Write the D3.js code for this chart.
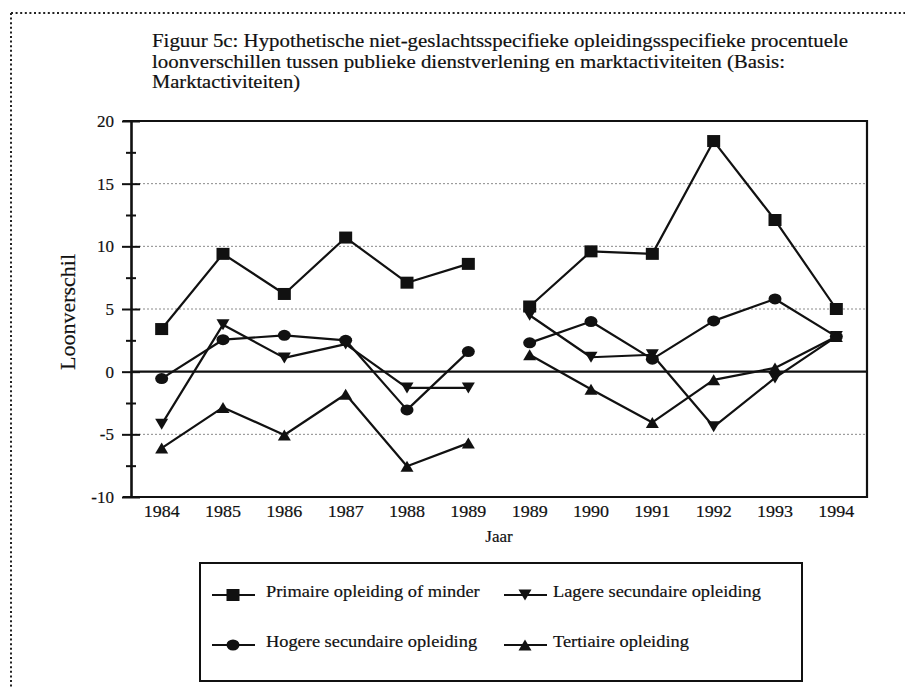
<!DOCTYPE html>
<html><head><meta charset="utf-8">
<script src="https://cdn.jsdelivr.net/npm/d3@7"></script>
<style>
body{margin:0;background:#fff}
svg{display:block}
text{font-family:"Liberation Serif","Times New Roman",serif;fill:#111;stroke:#111;stroke-width:0.2px}
</style>
</head><body>
<svg id="chart" width="905" height="688"></svg>
<script>
// ---------- data ----------
const titleLines = [
  "Figuur 5c: Hypothetische niet-geslachtsspecifieke opleidingsspecifieke procentuele",
  "loonverschillen tussen publieke dienstverlening en marktactiviteiten (Basis:",
  "Marktactiviteiten)"
];
const years = ["1984","1985","1986","1987","1988","1989","1989","1990","1991","1992","1993","1994"];
const yMajorTicks = [-10,-5,0,5,10,15,20];
const yMinorTicks = [-7.5,-2.5,2.5,7.5,12.5,17.5];
const gridValues = [-5,5,10,15];
const seriesNames = ["Primaire opleiding of minder","Lagere secundaire opleiding","Hogere secundaire opleiding","Tertiaire opleiding"];
const primaire  = [3.4, 9.4, 6.2, 10.7, 7.1, 8.6, 5.2, 9.6, 9.4, 18.4, 12.1, 5.0];
const lagere    = [-4.2, 3.75, 1.1, 2.2, -1.3, -1.3, 4.5, 1.15, 1.35, -4.4, -0.5, 2.8];
const hogere    = [-0.55, 2.55, 2.9, 2.5, -3.05, 1.6, 2.3, 4.0, 1.0, 4.05, 5.8, 2.8];
const tertiaire = [-6.1, -2.85, -5.05, -1.8, -7.55, -5.7, 1.35, -1.4, -4.05, -0.65, 0.3, 2.8];
const secondSegmentStart = 6;
const xTitle = "Jaar";
const yTitle = "Loonverschil";

// ---------- layout ----------
const svg = d3.select("#chart");
const L = 131, R = 867, T = 121, B = 497;
const ink = "#111";

const idx = d3.range(years.length);
const x = d3.scalePoint().domain(idx).range([L, R]).padding(0.5);
const y = d3.scaleLinear().domain([-10, 20]).range([B, T]);

function stretch(sel, k, target) {
  sel.each(function () {
    const w = this.getComputedTextLength();
    d3.select(this).attr("textLength", target != null ? target : w * k)
      .attr("lengthAdjust", "spacingAndGlyphs");
  });
}

// dotted page border
svg.append("line").attr("x1", 11).attr("x2", 905).attr("y1", 13).attr("y2", 13)
  .attr("stroke", "#222").attr("stroke-width", 2).attr("stroke-dasharray", "2,2.6");
svg.append("line").attr("x1", 11).attr("x2", 11).attr("y1", 13).attr("y2", 688)
  .attr("stroke", "#222").attr("stroke-width", 2).attr("stroke-dasharray", "2,2.6");

// title
const titleWidths = [696, 633, 148];
svg.selectAll("text.title").data(titleLines).join("text")
  .attr("class", "title")
  .attr("x", 152).attr("y", (d, i) => 47 + i * 20.6)
  .style("font-size", "19.5px")
  .text(d => d)
  .each(function (d, i) { stretch(d3.select(this), 1, titleWidths[i]); });

// gridlines
svg.append("g").selectAll("line").data(gridValues).join("line")
  .attr("x1", L).attr("x2", R).attr("y1", d => y(d)).attr("y2", d => y(d))
  .attr("stroke", "#8a8a8a").attr("stroke-width", 1).attr("stroke-dasharray", "2,2");

// frame (top, right, bottom)
svg.append("path")
  .attr("d", `M${L - 8},${T}H${R}V${B}H${L - 8}`)
  .attr("fill", "none").attr("stroke", ink).attr("stroke-width", 2.2);

// zero line
svg.append("line").attr("x1", L).attr("x2", R).attr("y1", y(0)).attr("y2", y(0))
  .attr("stroke", ink).attr("stroke-width", 2.2);

// y axis (major with labels)
const yAxis = svg.append("g").attr("transform", `translate(${L},0)`)
  .call(d3.axisLeft(y).tickValues(yMajorTicks).tickSize(0).tickPadding(0).tickFormat(d => String(d)));
yAxis.select(".domain").attr("stroke", ink).attr("stroke-width", 2.6);
yAxis.selectAll(".tick line").attr("x1", -9).attr("x2", 9).attr("stroke", ink).attr("stroke-width", 2);
yAxis.selectAll(".tick text")
  .attr("x", -17).attr("dy", "0.33em")
  .style("font-size", "17px").style("font-family", '"Liberation Serif","Times New Roman",serif')
  .attr("fill", ink);
// minor ticks
const yMinor = svg.append("g").attr("transform", `translate(${L},0)`)
  .call(d3.axisLeft(y).tickValues(yMinorTicks).tickSize(0).tickFormat(""));
yMinor.select(".domain").remove();
yMinor.selectAll(".tick line").attr("x1", -5).attr("x2", 5).attr("stroke", ink).attr("stroke-width", 2);

// x labels
svg.append("g").selectAll("text").data(idx).join("text")
  .attr("x", d => x(d)).attr("y", 517).attr("text-anchor", "middle")
  .style("font-size", "17px").text(d => years[d])
  .call(stretch, 1.06);

svg.append("text").attr("x", 499).attr("y", 542).attr("text-anchor", "middle")
  .style("font-size", "17px").text(xTitle);

svg.append("text").attr("transform", "translate(75,312) rotate(-90)")
  .attr("text-anchor", "middle").style("font-size", "22px").text(yTitle);

// ---------- series ----------
const series = [
  {name: seriesNames[0], values: primaire, shape: "square"},
  {name: seriesNames[1], values: lagere, shape: "down"},
  {name: seriesNames[2], values: hogere, shape: "circle"},
  {name: seriesNames[3], values: tertiaire, shape: "up"}
];

const line = d3.line().x(d => x(d.i)).y(d => y(d.v));

function drawMarker(g, shape, cx, cy) {
  if (shape === "square") {
    g.append("rect").attr("x", cx - 6.5).attr("y", cy - 6).attr("width", 13).attr("height", 12).attr("fill", ink);
  } else if (shape === "circle") {
    g.append("ellipse").attr("cx", cx).attr("cy", cy).attr("rx", 6.5).attr("ry", 5.5).attr("fill", ink);
  } else if (shape === "up") {
    g.append("path").attr("d", `M${cx},${cy - 5.5}L${cx + 6.5},${cy + 5.5}L${cx - 6.5},${cy + 5.5}Z`).attr("fill", ink);
  } else {
    g.append("path").attr("d", `M${cx - 6.5},${cy - 5.5}L${cx + 6.5},${cy - 5.5}L${cx},${cy + 5.5}Z`).attr("fill", ink);
  }
}

series.forEach(s => {
  const pts = s.values.map((v, i) => ({i, v}));
  const segs = [pts.slice(0, secondSegmentStart), pts.slice(secondSegmentStart)];
  const g = svg.append("g");
  segs.forEach(seg => {
    g.append("path").attr("d", line(seg)).attr("fill", "none")
      .attr("stroke", ink).attr("stroke-width", 2.2).attr("stroke-linejoin", "round");
  });
  pts.forEach(p => drawMarker(g, s.shape, x(p.i), y(p.v)));
});

// ---------- legend ----------
svg.append("rect").attr("x", 200).attr("y", 563).attr("width", 602).attr("height", 118)
  .attr("fill", "none").attr("stroke", ink).attr("stroke-width", 2);

const legendOrder = [0, 1, 2, 3];
const legendPos = [
  {lx: 212, mx: 233, tx: 266, y: 595},
  {lx: 504, mx: 525, tx: 553, y: 595},
  {lx: 212, mx: 233, tx: 266, y: 645},
  {lx: 504, mx: 525, tx: 553, y: 645}
];
legendOrder.forEach((si, k) => {
  const p = legendPos[k];
  const s = series[si];
  const g = svg.append("g");
  g.append("line").attr("x1", p.lx).attr("x2", p.lx + 43).attr("y1", p.y).attr("y2", p.y)
    .attr("stroke", ink).attr("stroke-width", 2.2);
  drawMarker(g, s.shape, p.mx, p.y);
  g.append("text").attr("x", p.tx).attr("y", p.y + 1.5).style("font-size", "17px")
    .text(s.name).call(stretch, 1.08);
});
</script>
</body></html>
